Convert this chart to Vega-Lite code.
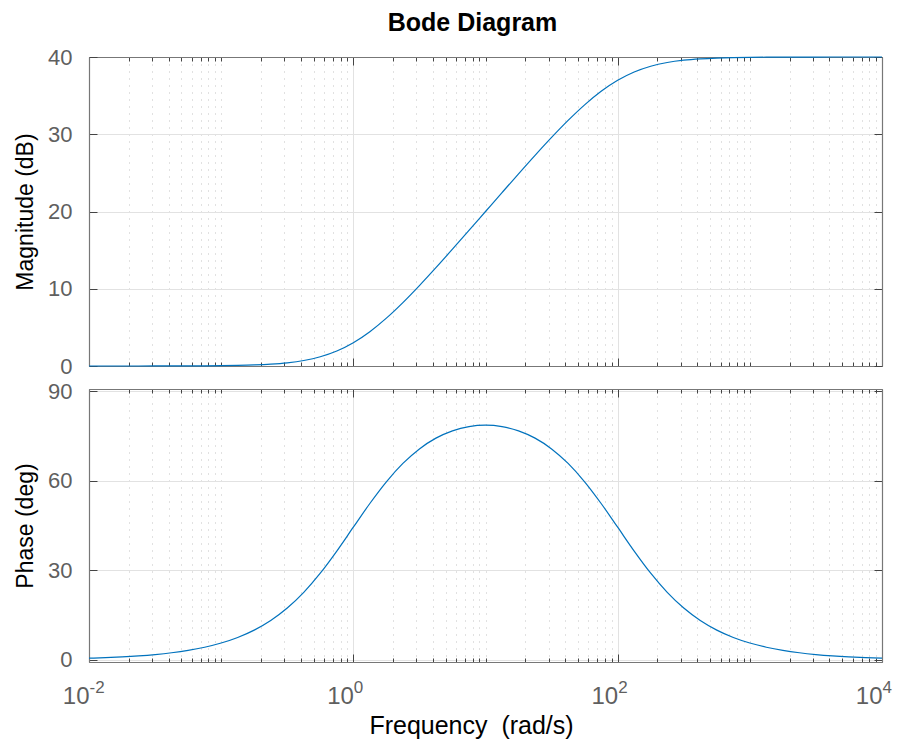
{
  "$schema": "https://vega.github.io/schema/vega-lite/v6.json",
  "background": "white",
  "padding": {"left": 14, "top": 11, "right": 19, "bottom": 2},
  "title": {"text": "Bode Diagram", "font": "Liberation Sans", "fontSize": 25, "fontWeight": "bold", "color": "#000000", "anchor": "middle", "frame": "group", "dx": -13, "offset": 10},
  "config": {
    "view": {"stroke": null},
    "axis": {"labelFont": "Liberation Sans", "titleFont": "Liberation Sans", "domainColor": "#777777", "domainWidth": 1.2, "tickColor": "#444444", "tickWidth": 1, "labelColor": "#5f5f5f", "titleColor": "#000000", "titleFontWeight": "normal"}
  },
  "data": {"values": [
    {"w": 0.01, "mag": 0.0004, "phase": 0.5672},
    {"w": 0.013335, "mag": 0.0008, "phase": 0.7564},
    {"w": 0.017783, "mag": 0.0014, "phase": 1.0086},
    {"w": 0.023714, "mag": 0.0024, "phase": 1.3449},
    {"w": 0.031623, "mag": 0.0043, "phase": 1.7932},
    {"w": 0.04217, "mag": 0.0077, "phase": 2.3905},
    {"w": 0.056234, "mag": 0.0137, "phase": 3.1864},
    {"w": 0.074989, "mag": 0.0243, "phase": 4.2455},
    {"w": 0.1, "mag": 0.0432, "phase": 5.6533},
    {"w": 0.13335, "mag": 0.0765, "phase": 7.5193},
    {"w": 0.17783, "mag": 0.1352, "phase": 9.9815},
    {"w": 0.23714, "mag": 0.2376, "phase": 13.2046},
    {"w": 0.31623, "mag": 0.4139, "phase": 17.3672},
    {"w": 0.4217, "mag": 0.7107, "phase": 22.6234},
    {"w": 0.56234, "mag": 1.1932, "phase": 29.0286},
    {"w": 0.74989, "mag": 1.9375, "phase": 36.4363},
    {"w": 1, "mag": 3.0099, "phase": 44.4271},
    {"w": 1.3335, "mag": 4.437, "phase": 52.37},
    {"w": 1.7783, "mag": 6.1919, "phase": 59.6304},
    {"w": 2.3714, "mag": 8.2085, "phase": 65.7765},
    {"w": 3.1623, "mag": 10.4096, "phase": 70.6403},
    {"w": 4.217, "mag": 12.7299, "phase": 74.2448},
    {"w": 5.6234, "mag": 15.1215, "phase": 76.698},
    {"w": 7.4989, "mag": 17.5522, "phase": 78.1158},
    {"w": 10, "mag": 20.0, "phase": 78.5788},
    {"w": 13.335, "mag": 22.4478, "phase": 78.1158},
    {"w": 17.783, "mag": 24.8785, "phase": 76.698},
    {"w": 23.714, "mag": 27.2701, "phase": 74.2448},
    {"w": 31.623, "mag": 29.5904, "phase": 70.6403},
    {"w": 42.17, "mag": 31.7915, "phase": 65.7765},
    {"w": 56.234, "mag": 33.8081, "phase": 59.6304},
    {"w": 74.989, "mag": 35.563, "phase": 52.37},
    {"w": 100, "mag": 36.9901, "phase": 44.4271},
    {"w": 133.35, "mag": 38.0625, "phase": 36.4363},
    {"w": 177.83, "mag": 38.8068, "phase": 29.0286},
    {"w": 237.14, "mag": 39.2893, "phase": 22.6234},
    {"w": 316.23, "mag": 39.5861, "phase": 17.3672},
    {"w": 421.7, "mag": 39.7624, "phase": 13.2046},
    {"w": 562.34, "mag": 39.8648, "phase": 9.9815},
    {"w": 749.89, "mag": 39.9235, "phase": 7.5193},
    {"w": 1000, "mag": 39.9568, "phase": 5.6533},
    {"w": 1333.5, "mag": 39.9757, "phase": 4.2455},
    {"w": 1778.3, "mag": 39.9863, "phase": 3.1864},
    {"w": 2371.4, "mag": 39.9923, "phase": 2.3905},
    {"w": 3162.3, "mag": 39.9957, "phase": 1.7932},
    {"w": 4217, "mag": 39.9976, "phase": 1.3449},
    {"w": 5623.4, "mag": 39.9986, "phase": 1.0086},
    {"w": 7498.9, "mag": 39.9992, "phase": 0.7564},
    {"w": 10000, "mag": 39.9996, "phase": 0.5672}
  ]},
  "bounds": "flush",
  "spacing": 23,
  "vconcat": [
    {
      "width": 793,
      "height": 309,
      "resolve": {"axis": {"x": "independent", "y": "independent"}},
      "layer": [
        {
          "mark": {"type": "line", "color": "#0072BD", "strokeWidth": 1.2, "interpolate": "monotone"},
          "encoding": {
            "x": {"field": "w", "type": "quantitative", "scale": {"type": "log", "domain": [0.01, 10000], "nice": false},
              "axis": {"orient": "bottom", "title": null, "labels": false,
                "values": [0.01, 0.02, 0.03, 0.04, 0.05, 0.06, 0.07, 0.08, 0.09, 0.1, 0.2, 0.3, 0.4, 0.5, 0.6, 0.7, 0.8, 0.9, 1, 2, 3, 4, 5, 6, 7, 8, 9, 10, 20, 30, 40, 50, 60, 70, 80, 90, 100, 200, 300, 400, 500, 600, 700, 800, 900, 1000, 2000, 3000, 4000, 5000, 6000, 7000, 8000, 9000, 10000],
                "tickSize": {"condition": {"test": "indexof([0.01, 1, 100, 10000], datum.value) >= 0", "value": -8}, "value": -4},
                "grid": true,
                "gridColor": {"condition": {"test": "indexof([0.01, 1, 100, 10000], datum.value) >= 0", "value": "#e2e2e2"}, "value": "#c2c2c2"},
                "gridDash": {"condition": {"test": "indexof([0.01, 1, 100, 10000], datum.value) >= 0", "value": []}, "value": [1, 6]},
                "gridWidth": 1}},
            "y": {"field": "mag", "type": "quantitative", "scale": {"domain": [0, 40], "nice": false, "zero": false},
              "axis": {"orient": "left", "title": "Magnitude (dB)", "titleFontSize": 23, "titlePadding": 10,
                "values": [0, 10, 20, 30, 40], "tickSize": -8, "labelFontSize": 22, "labelPadding": 25,
                "grid": true, "gridColor": "#e2e2e2", "gridWidth": 1}}
          }
        },
        {
          "mark": {"type": "line", "opacity": 0},
          "encoding": {
            "x": {"field": "w", "type": "quantitative", "scale": {"type": "log", "domain": [0.01, 10000], "nice": false},
              "axis": {"orient": "top", "title": null, "labels": false, "grid": false,
                "values": [0.01, 0.02, 0.03, 0.04, 0.05, 0.06, 0.07, 0.08, 0.09, 0.1, 0.2, 0.3, 0.4, 0.5, 0.6, 0.7, 0.8, 0.9, 1, 2, 3, 4, 5, 6, 7, 8, 9, 10, 20, 30, 40, 50, 60, 70, 80, 90, 100, 200, 300, 400, 500, 600, 700, 800, 900, 1000, 2000, 3000, 4000, 5000, 6000, 7000, 8000, 9000, 10000],
                "tickSize": {"condition": {"test": "indexof([0.01, 1, 100, 10000], datum.value) >= 0", "value": -8}, "value": -4}}},
            "y": {"field": "mag", "type": "quantitative", "scale": {"domain": [0, 40], "nice": false, "zero": false},
              "axis": {"orient": "right", "title": null, "labels": false, "grid": false,
                "values": [0, 10, 20, 30, 40], "tickSize": -8}}
          }
        }
      ]
    },
    {
      "width": 793,
      "height": 273,
      "resolve": {"axis": {"x": "independent", "y": "independent"}},
      "layer": [
        {
          "mark": {"type": "line", "color": "#0072BD", "strokeWidth": 1.2, "interpolate": "monotone"},
          "encoding": {
            "x": {"field": "w", "type": "quantitative", "scale": {"type": "log", "domain": [0.01, 10000], "nice": false},
              "axis": {"orient": "bottom", "title": "Frequency \u00a0(rad/s)", "titleFontSize": 25, "titlePadding": 1, "titleX": 382,
                "labelFontSize": 24, "labelPadding": 49, "labelBaseline": "alphabetic", "labelAlign": "right", "labelDx": 1, "labelFlush": false, "labelOverlap": false,
                "labelExpr": "indexof([0.01, 1, 100, 10000], datum.value) >= 0 ? '10' : ''",
                "values": [0.01, 0.02, 0.03, 0.04, 0.05, 0.06, 0.07, 0.08, 0.09, 0.1, 0.2, 0.3, 0.4, 0.5, 0.6, 0.7, 0.8, 0.9, 1, 2, 3, 4, 5, 6, 7, 8, 9, 10, 20, 30, 40, 50, 60, 70, 80, 90, 100, 200, 300, 400, 500, 600, 700, 800, 900, 1000, 2000, 3000, 4000, 5000, 6000, 7000, 8000, 9000, 10000],
                "tickSize": {"condition": {"test": "indexof([0.01, 1, 100, 10000], datum.value) >= 0", "value": -8}, "value": -4},
                "grid": true,
                "gridColor": {"condition": {"test": "indexof([0.01, 1, 100, 10000], datum.value) >= 0", "value": "#e2e2e2"}, "value": "#c2c2c2"},
                "gridDash": {"condition": {"test": "indexof([0.01, 1, 100, 10000], datum.value) >= 0", "value": []}, "value": [1, 6]},
                "gridWidth": 1}},
            "y": {"field": "phase", "type": "quantitative", "scale": {"domain": [-0.7, 90.7], "nice": false, "zero": false},
              "axis": {"orient": "left", "title": "Phase (deg)", "titleFontSize": 23, "titlePadding": 10,
                "values": [0, 30, 60, 90], "tickSize": -8, "labelFontSize": 22, "labelPadding": 25,
                "grid": true, "gridColor": "#e2e2e2", "gridWidth": 1}}
          }
        },
        {
          "mark": {"type": "line", "opacity": 0},
          "encoding": {
            "x": {"field": "w", "type": "quantitative", "scale": {"type": "log", "domain": [0.01, 10000], "nice": false},
              "axis": {"orient": "top", "title": null, "labels": false, "grid": false,
                "values": [0.01, 0.02, 0.03, 0.04, 0.05, 0.06, 0.07, 0.08, 0.09, 0.1, 0.2, 0.3, 0.4, 0.5, 0.6, 0.7, 0.8, 0.9, 1, 2, 3, 4, 5, 6, 7, 8, 9, 10, 20, 30, 40, 50, 60, 70, 80, 90, 100, 200, 300, 400, 500, 600, 700, 800, 900, 1000, 2000, 3000, 4000, 5000, 6000, 7000, 8000, 9000, 10000],
                "tickSize": {"condition": {"test": "indexof([0.01, 1, 100, 10000], datum.value) >= 0", "value": -8}, "value": -4}}},
            "y": {"field": "phase", "type": "quantitative", "scale": {"domain": [-0.7, 90.7], "nice": false, "zero": false},
              "axis": {"orient": "right", "title": null, "labels": false, "grid": false,
                "values": [0, 30, 60, 90], "tickSize": -8}}
          }
        },
        {
          "mark": {"type": "line", "opacity": 0},
          "encoding": {
            "x": {"field": "w", "type": "quantitative", "scale": {"type": "log", "domain": [0.01, 10000], "nice": false},
              "axis": {"orient": "bottom", "title": null, "domain": false, "grid": false,
                "values": [0.01, 1, 100, 10000], "tickSize": -8, "tickOpacity": 0,
                "labelFontSize": 17, "labelPadding": 38, "labelBaseline": "alphabetic", "labelAlign": "left", "labelDx": 6, "labelFlush": false, "labelOverlap": false,
                "labelExpr": "datum.value == 0.01 ? '-2' : datum.value == 1 ? '0' : datum.value == 100 ? '2' : '4'"}},
            "y": {"field": "phase", "type": "quantitative", "scale": {"domain": [-0.7, 90.7], "nice": false, "zero": false}, "axis": null}
          }
        }
      ]
    }
  ]
}
